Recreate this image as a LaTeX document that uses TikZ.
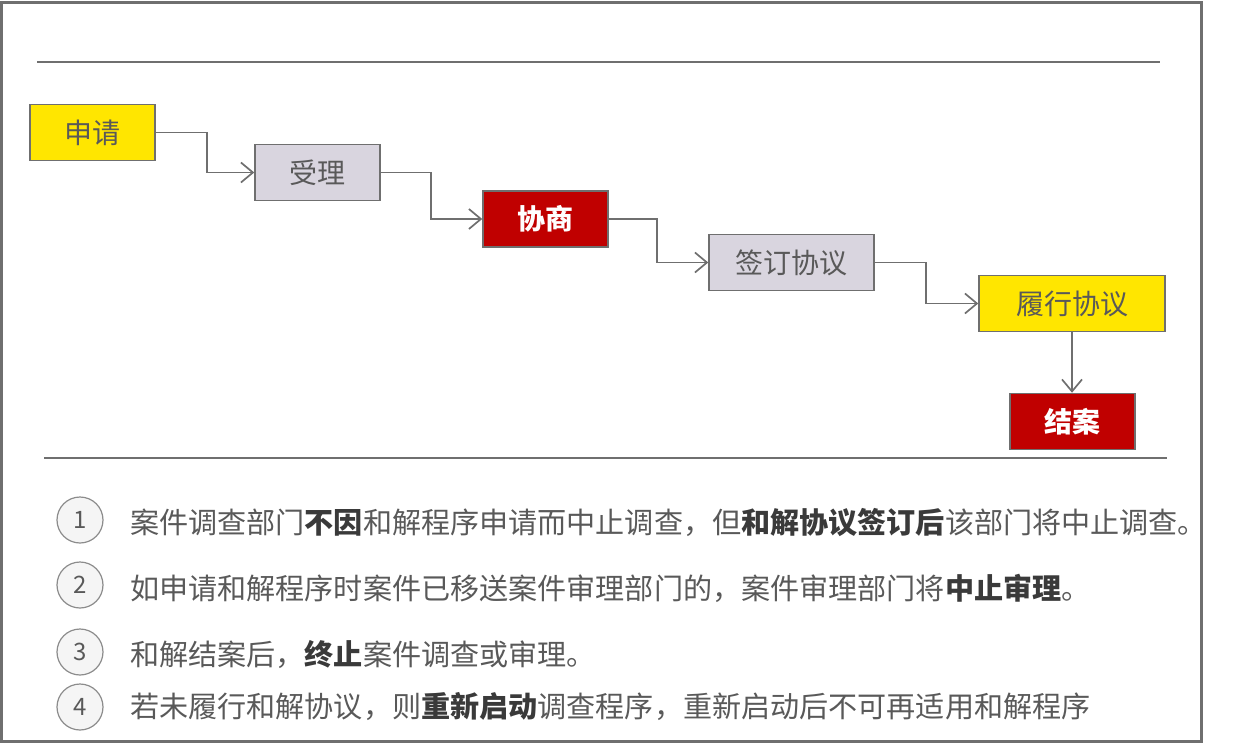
\documentclass[tikz,border=0pt]{standalone}
\usepackage{fontspec}
\setmainfont{Noto Sans CJK SC}
\usepackage{xcolor,tikz}
\usetikzlibrary{arrows.meta,positioning}
\definecolor{FlowLine}{HTML}{6F6F6F}
\definecolor{FlowText}{HTML}{595959}
\definecolor{FlowYellow}{HTML}{FFE600}
\definecolor{FlowLilac}{HTML}{D9D5DF}
\definecolor{FlowRed}{HTML}{C00000}
\definecolor{NoteDark}{HTML}{3A3A3A}
\tikzset{stepbox/.style={draw=FlowLine,line width=1.5pt,minimum width=125pt,minimum height=56pt,
 inner sep=0pt,font=\fontsize{28}{30}\selectfont,text=FlowText},
 yellowbox/.style={stepbox,fill=FlowYellow},lilacbox/.style={stepbox,fill=FlowLilac},
 redbox/.style={stepbox,fill=FlowRed,text=white,font=\fontsize{28}{30}\selectfont\bfseries},
 flow/.style={draw=FlowLine,line width=1.7pt,-{Straight Barb[length=12pt,width=20pt,line width=1.7pt]}},
 numdisc/.style={circle,draw=FlowLine!80,line width=1.2pt,fill=gray!8,minimum size=46pt,inner sep=0pt,
 font=\fontsize{24}{26}\selectfont,text=FlowText},
 noteline/.style={anchor=west,inner sep=0pt,font=\fontsize{29.1}{31}\selectfont,text=FlowText}}
\newcommand{\hl}[1]{{\bfseries\color{NoteDark}#1}}

\begin{document}
\begin{tikzpicture}[x=1pt,y=-1pt]
\useasboundingbox (0,0) rectangle (1233,744);
\draw[FlowLine,line width=3pt] (1.5,2.5) rectangle (1201,741);
\draw[FlowLine,line width=1.5pt] (37,62)--(1160,62);
\draw[FlowLine,line width=1.5pt] (44,458)--(1167,458);
% steps of the procedure
\node[yellowbox] (apply) at (92.5,132.5) {申请};
\node[lilacbox] (accept) at (317.5,172.5) {受理};
\node[redbox] (consult) at (545.5,219) {协商};
\node[lilacbox,minimum width=165pt] (sign) at (791.5,262.5) {签订协议};
\node[yellowbox,minimum width=186pt] (perform) at (1072,303.5) {履行协议};
\node[redbox] (close) at (1072.5,421.5) {结案};
\draw[flow] (apply.east)--++(51,0)|-(accept.west);
\draw[flow] (accept.east)--++(50,0)|-(consult.west);
\draw[flow] (consult.east)--++(48,0)|-(sign.west);
\draw[flow] (sign.east)--++(51,0)|-(perform.west);
\draw[flow] (perform.south)--(perform.south|-close.north);
% notes
\foreach \i/\y in {1/520,2/585,3/652,4/707}
 \node[numdisc] (num\i) at (80,\y) {\i};
\node[noteline] (note1) at (130,523) {案件调查部门\hl{不因}和解程序申请而中止调查，但\hl{和解协议签订后}该部门将中止调查。};
\node[noteline] (note2) at (130,588) {如申请和解程序时案件已移送案件审理部门的，案件审理部门将\hl{中止审理}。};
\node[noteline] (note3) at (130,655) {和解结案后，\hl{终止}案件调查或审理。};
\node[noteline] (note4) at (130,707) {若未履行和解协议，则\hl{重新启动}调查程序，重新启动后不可再适用和解程序};
\end{tikzpicture}
\end{document}
